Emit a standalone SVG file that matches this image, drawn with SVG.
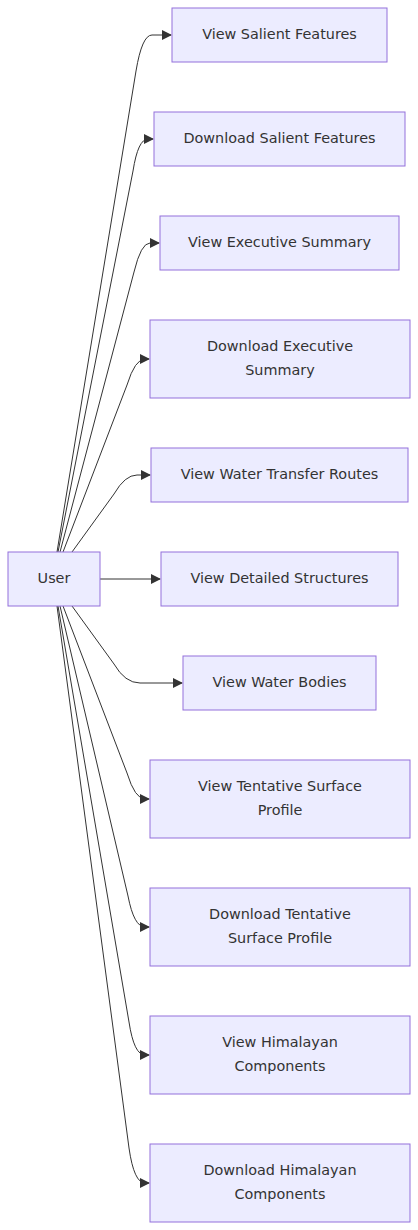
<svg xmlns="http://www.w3.org/2000/svg" width="418" height="1230" viewBox="0 0 418 1230">
<style>
.n rect{fill:#ECECFF;stroke:#9370DB;stroke-width:1px}
.n text{font-family:"DejaVu Sans",Verdana,sans-serif;font-size:14.4px;fill:#333;text-anchor:middle;dominant-baseline:central}
.e path{fill:none;stroke:#333;stroke-width:1px}
</style>
<defs>
<marker id="arr" viewBox="0 0 10 10" refX="9" refY="5" markerWidth="10" markerHeight="10" markerUnits="userSpaceOnUse" orient="auto">
<path d="M0,0 L10,5 L0,10 z" fill="#333"/>
</marker>
</defs>
<g id="edges" class="e">
<path marker-end="url(#arr)" d="M57,552 L136,71 Q142,35 152,35 L171,35"/>
<path marker-end="url(#arr)" d="M58,552 L133,171 Q138,139 148,139 L153,139"/>
<path marker-end="url(#arr)" d="M60,552 L134,272 Q141,243 150,243 L159,243"/>
<path marker-end="url(#arr)" d="M63,552 L127,385 Q135,359 145,359 L149,359"/>
<path marker-end="url(#arr)" d="M72,552 L114,494 Q125,475 137,475 L150,475"/>
<path marker-end="url(#arr)" d="M100,579 L160,579"/>
<path marker-end="url(#arr)" d="M72,606 L114,664 Q125,683 140,683 L182,683"/>
<path marker-end="url(#arr)" d="M63,606 L127,773 Q135,799 145,799 L149,799"/>
<path marker-end="url(#arr)" d="M60,606 L128,896 Q134,927 145,927 L149,927"/>
<path marker-end="url(#arr)" d="M58,606 L129,1022 Q134,1055 145,1055 L149,1055"/>
<path marker-end="url(#arr)" d="M57,606 L129,1148 Q134,1183 145,1183 L149,1183"/>
</g>
<g id="user" class="n"><rect x="8" y="552" width="92" height="54"/><text x="54" y="578">User</text></g>
<g id="n1" class="n"><rect x="172" y="8" width="215" height="54"/><text x="279.5" y="34">View Salient Features</text></g>
<g id="n2" class="n"><rect x="154" y="112" width="251" height="54"/><text x="279.5" y="138">Download Salient Features</text></g>
<g id="n3" class="n"><rect x="160" y="216" width="239" height="54"/><text x="279.5" y="242">View Executive Summary</text></g>
<g id="n4" class="n"><rect x="150" y="320" width="260" height="78"/><text x="280" y="346">Download Executive</text><text x="280" y="370">Summary</text></g>
<g id="n5" class="n"><rect x="151" y="448" width="257" height="54"/><text x="279.5" y="474">View Water Transfer Routes</text></g>
<g id="n6" class="n"><rect x="161" y="552" width="237" height="54"/><text x="279.5" y="578">View Detailed Structures</text></g>
<g id="n7" class="n"><rect x="183" y="656" width="193" height="54"/><text x="279.5" y="682">View Water Bodies</text></g>
<g id="n8" class="n"><rect x="150" y="760" width="260" height="78"/><text x="280" y="786">View Tentative Surface</text><text x="280" y="810">Profile</text></g>
<g id="n9" class="n"><rect x="150" y="888" width="260" height="78"/><text x="280" y="914">Download Tentative</text><text x="280" y="938">Surface Profile</text></g>
<g id="n10" class="n"><rect x="150" y="1016" width="260" height="78"/><text x="280" y="1042">View Himalayan</text><text x="280" y="1066">Components</text></g>
<g id="n11" class="n"><rect x="150" y="1144" width="260" height="78"/><text x="280" y="1170">Download Himalayan</text><text x="280" y="1194">Components</text></g>
</svg>
